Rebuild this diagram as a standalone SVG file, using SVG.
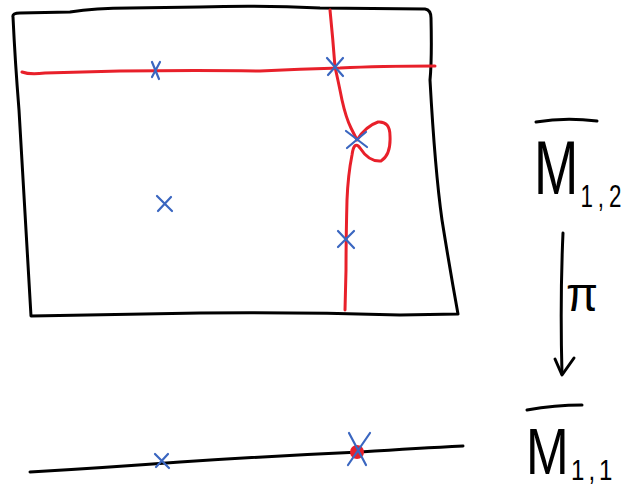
<svg xmlns="http://www.w3.org/2000/svg" width="624" height="489" viewBox="0 0 624 489">
<style>
.blk{fill:none;stroke:#000;stroke-width:3;stroke-linecap:round;stroke-linejoin:round}
.red{fill:none;stroke:#e8202a;stroke-width:3;stroke-linecap:round;stroke-linejoin:round}
.x{fill:none;stroke:#3a66c0;stroke-width:2.2;stroke-linecap:round}
.lbl{font-family:"Liberation Sans",Arial,sans-serif;fill:#000}
</style>
<rect width="624" height="489" fill="#fff"/>
<g id="surface">
<path class="blk" d="M13,17 Q12,13 20,13 L70,12 Q95,8 130,8 L200,7 Q260,5 320,8 L425,9 Q431,10 431,18 Q432,60 430,80 Q435,170 442,220 Q450,270 458,314 L400,315 Q300,312 200,313 L31,316 Q24,200 19,110 Q15,60 13,17 Z"/>
</g>
<g id="fibre-lines">
<path class="red" d="M22,72 Q30,75 45,73 L120,71 Q200,70 260,71 Q300,69 340,68 Q380,66 435,66"/>
<path class="red" d="M330,10 Q333,40 335,67 Q338,80 342,100 Q346,118 351,128 L357,140 Q366,126 378,122 Q390,121 390,136 Q391,155 381,161 Q369,162 360,148 Q354,140 352,155 Q348,175 347,200 Q346,240 346,270 L345,310"/>
</g>
<g id="base">
<path class="blk" d="M30,472 Q100,468 180,462 Q270,456 360,452 Q420,448 463,446"/>
<circle cx="357" cy="452" r="7" fill="#e8202a"/>
</g>
<g id="marks">
<path class="x" d="M152,62 L159,79 M160,62 L152,77"/>
<path class="x" d="M327,58 L343,76 M343,58 L328,75"/>
<path class="x" d="M346,131 L367,147 M366,132 L347,148"/>
<path class="x" d="M157,196 L172,211 M171,197 L158,211"/>
<path class="x" d="M338,231 L354,248 M354,231 L338,247"/>
<path class="x" d="M155,454 L169,468 M168,454 L156,467"/>
<path class="x" d="M349,433 L366,465 M370,433 L348,465"/>
</g>
<g id="label-M12">
<path class="blk" d="M536,122 Q565,117 597,121"/>
<text class="lbl" transform="translate(534,194) scale(0.7,1)" x="0" y="0" font-size="76">M<tspan font-size="32" dx="3 7 7" dy="13">1,2</tspan></text>
</g>
<g id="label-M11">
<path class="blk" d="M527,410 Q555,405 582,405"/>
<text class="lbl" transform="translate(526,474) scale(0.8,1)" x="0" y="0" font-size="64">M<tspan font-size="30" dx="3 5 5" dy="6">1,1</tspan></text>
</g>
<g id="connectors">
<path class="blk" d="M563,233 Q560,300 562,374"/>
<path class="blk" d="M555,359 L562,375 L574,358"/>
<text class="lbl" x="566" y="311" font-size="48" textLength="32" lengthAdjust="spacingAndGlyphs">π</text>
</g>
</svg>
